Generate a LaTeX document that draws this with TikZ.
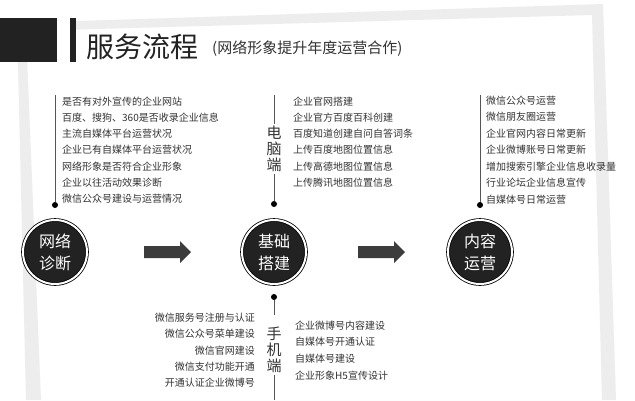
\documentclass[tikz,border=0pt]{standalone}
\usepackage{fontspec}
\setmainfont{Noto Sans CJK SC}
\definecolor{framegray}{HTML}{EDEDED}
\definecolor{darkfill}{HTML}{222222}
\definecolor{txt}{HTML}{333333}
\definecolor{linegray}{HTML}{555555}
\definecolor{arrowc}{HTML}{3C3C3C}
\begin{document}
\begin{tikzpicture}[x=1pt,y=-1pt,
  item/.style={font=\fontsize{10}{12}\selectfont, text=txt, inner sep=0pt},
  stage/.style={circle, fill=darkfill, draw=black, double=white, double distance=2pt,
    line width=0.8pt, minimum size=64pt, inner sep=0pt, text=white, align=center,
    font=\fontsize{16}{22}\selectfont},
  vline/.style={draw=linegray, line width=0.9pt},
  bullet/.style={circle, fill=black, minimum size=6pt, inner sep=0pt},
  side/.style={font=\fontsize{15}{16}\selectfont, text=txt, align=center, inner sep=2pt},
  blockarrow/.style={fill=arrowc}]
\useasboundingbox (0,0) rectangle (635,400);
\fill[white] (0,0) rectangle (635,400);
% light frame
\fill[framegray, even odd rule]
  (17,23) -- (603,4) -- (616,400) -- (26,400) -- cycle
  (26,31) -- (592,15) -- (602,400) -- (41,400) -- cycle;
\fill[white] (57,12) rectangle (70,36);
% header
\fill[darkfill] (0,18) rectangle (57,62);
\fill[darkfill] (70,18) rectangle (76,62);
\node[anchor=west, inner sep=0pt, text=darkfill, font=\fontsize{28}{30}\selectfont] (title) at (86,47) {服务流程};
\node[anchor=west, inner sep=0pt, text=txt, font=\fontsize{15}{17}\selectfont] (subtitle) at (212,49) {(网络形象提升年度运营合作)};

% stages
\node[stage] (c1) at (55,252) {网络\\诊断};
\node[stage] (c2) at (274,252) {基础\\搭建};
\node[stage] (c3) at (480,252) {内容\\运营};

% arrows
\coordinate (a1) at (144,252);
\coordinate (a2) at (358,252);
\foreach \a in {a1,a2}
  \fill[blockarrow] (\a) ++(0,-6) -- ++(36,0) -- ++(0,-5) -- ++(11,11) -- ++(-11,11) -- ++(0,-5) -- ++(-36,0) -- cycle;

% list 1
\coordinate (t1) at (55,95);
\node[bullet] (d1) at (55,205) {};
\draw[vline] (t1) -- (d1);
\foreach \t/\y [count=\i] in {是否有对外宣传的企业网站/102,百度、搜狗、360是否收录企业信息/118,主流自媒体平台运营状况/134,企业已有自媒体平台运营状况/150,网络形象是否符合企业形象/167,企业以往活动效果诊断/183,微信公众号建设与运营情况/199}
  \node[item, anchor=west] (l1\i) at (62,\y) {\t};

% list 2 (电脑端)
\coordinate (t2) at (274,95);
\node[side] (pc) at (274,149) {电\\脑\\端};
\node[bullet] (d2) at (274,204) {};
\draw[vline] (t2) -- (pc.north);
\draw[vline] (pc.south) -- (d2);
\foreach \t/\y [count=\i] in {企业官网搭建/102,企业官方百度百科创建/118,百度知道创建自问自答词条/134,上传百度地图位置信息/150,上传高德地图位置信息/167,上传腾讯地图位置信息/183}
  \node[item, anchor=west] (l2\i) at (293,\y) {\t};

% list 3
\coordinate (t3) at (480,95);
\node[bullet] (d3) at (480,205) {};
\draw[vline] (t3) -- (d3);
\foreach \t/\y [count=\i] in {微信公众号运营/101,微信朋友圈运营/117,企业官网内容日常更新/134,企业微博账号日常更新/150,增加搜索引擎企业信息收录量/167,行业论坛企业信息宣传/183,自媒体号日常运营/200}
  \node[item, anchor=west] (l3\i) at (486,\y) {\t};

% bottom (手机端)
\node[bullet] (d4) at (274,297) {};
\node[side] (mob) at (274,350) {手\\机\\端};
\coordinate (b4) at (274,400);
\draw[vline] (d4) -- ([yshift=10pt]mob.north);
\draw[vline] (mob.south) -- (b4);
\foreach \t/\y [count=\i] in {微信服务号注册与认证/318,微信公众号菜单建设/334,微信官网建设/351,微信支付功能开通/367,开通认证企业微博号/383}
  \node[item, anchor=east] (l4\i) at (255,\y) {\t};
\foreach \t/\y [count=\i] in {企业微博号内容建设/326,自媒体号开通认证/342,自媒体号建设/359,企业形象H5宣传设计/376}
  \node[item, anchor=west] (l5\i) at (295,\y) {\t};
\end{tikzpicture}
\end{document}
